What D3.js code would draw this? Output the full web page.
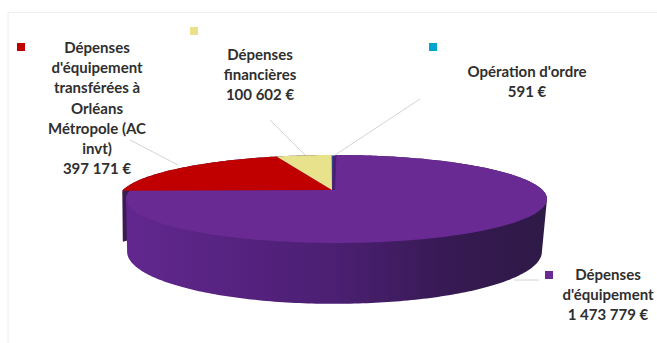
<!DOCTYPE html>
<html>
<head>
<meta charset="utf-8">
<script src="https://cdn.jsdelivr.net/npm/d3@7/dist/d3.min.js"></script>
<style>
  html, body { margin: 0; padding: 0; background: #fff; }
  svg { display: block; }
  text { font-family: Lato, "Open Sans", sans-serif; font-weight: 700; font-size: 15px; fill: #2f2f2f; text-anchor: middle; }
</style>
</head>
<body>
<svg id="chart" width="657" height="343"></svg>
<script>
// Budget split: investment spending by type, in euros
const categories = [
  "Dépenses d'équipement",
  "Dépenses d'équipement transférées à Orléans Métropole (AC invt)",
  "Dépenses financières",
  "Opération d'ordre"
];
const values = [1473779, 397171, 100602, 591];
const valueLabels = ["1 473 779 €", "397 171 €", "100 602 €", "591 €"];
const labelLines = [
  ["Dépenses", "d'équipement"],
  ["Dépenses", "d'équipement", "transférées à", "Orléans", "Métropole (AC", "invt)"],
  ["Dépenses", "financières"],
  ["Opération d'ordre"]
];
const colors = ["#6a2a94", "#c00000", "#e8e28c", "#00a5cf"];

const svg = d3.select("#chart");

// Faint frame of the chart area
svg.append("path").attr("d", "M8,343V12.5H657").attr("fill", "none").attr("stroke", "#eeeeee");

// Perspective model of the tilted disc
const persp = 0.2045;
const topFace = { y: 190, k: 42.16 };
const baseFace = { y: 241, k: 50 };

function rim(angle, cx, r, face) {
  const u = Math.sin(angle), v = -Math.cos(angle), w = 1 - persp * v;
  return [cx + r * u / w, face.y + face.k * v / w];
}
function arcPoints(a0, a1, cx, r, face) {
  const n = Math.max(2, Math.ceil(Math.abs(a1 - a0) * 60));
  return d3.range(n + 1).map(i => rim(a0 + (a1 - a0) * i / n, cx, r, face));
}
const outline = d3.line();

// The large slice is pulled slightly away from the others
const slices = d3.pie().sort(null).startAngle(0).endAngle(2 * Math.PI)(values);
const geom = [
  { cx: 336.5, r: 206, apex: 335, baseCx: 334.5, baseR: 203 },
  { cx: 332, r: 209, apex: 332, baseCx: 331.5, baseR: 208 },
  { cx: 332, r: 209, apex: 332, baseCx: 331.5, baseR: 208 },
  { cx: 332.5, r: 209, apex: 332.5, baseCx: 332, baseR: 208 }
];

const defs = svg.append("defs");
const wallFill = defs.append("linearGradient")
  .attr("id", "wallFill").attr("gradientUnits", "userSpaceOnUse")
  .attr("x1", 125).attr("x2", 545).attr("y1", 0).attr("y2", 0);
[[0, "#62278f"], [0.5, "#4b1f72"], [0.8, "#351950"], [1, "#2e1a47"]].forEach(([o, c]) =>
  wallFill.append("stop").attr("offset", o).attr("stop-color", c));

// Side wall of a slice: the hull of its upper and lower rims
function wallPath(s, g) {
  const pts = arcPoints(s.startAngle, s.endAngle, g.cx, g.r, topFace)
    .concat(arcPoints(s.startAngle, s.endAngle, g.baseCx, g.baseR, baseFace));
  return outline(d3.polygonHull(pts)) + "Z";
}

// Back slices first: only a thin strip of their walls shows on the left
slices.slice(1).forEach((s, i) => {
  svg.append("path").attr("d", wallPath(s, geom[i + 1])).attr("fill", "#3a1b52");
});
svg.append("path").attr("d", wallPath(slices[0], geom[0])).attr("fill", "url(#wallFill)");

// Top faces
slices.forEach((s, i) => {
  const g = geom[i];
  const face = [[g.apex, topFace.y]].concat(arcPoints(s.startAngle, s.endAngle, g.cx, g.r, topFace));
  svg.append("path").attr("d", outline(face) + "Z").attr("fill", colors[i]);
});

// Leader lines from each label to its slice
const leaders = [
  [[514, 280], [539, 280]],
  [[130, 140], [178, 165]],
  [[270, 120], [305, 155]],
  [[420, 99], [335, 155]]
];
leaders.forEach(l => svg.append("path").attr("d", outline(l))
  .attr("fill", "none").attr("stroke", "#d4d4d4").attr("stroke-width", 1));

// Legend keys
const keys = [[549, 275], [21, 47], [194, 31], [433, 47]];
svg.selectAll("rect.key").data(keys).join("rect").attr("class", "key")
  .attr("x", d => d[0] - 4).attr("y", d => d[1] - 4)
  .attr("width", 8).attr("height", 8)
  .attr("fill", (d, i) => colors[i]);

// Data labels
const anchors = [[608, 280], [97, 53], [260, 60], [527, 77]];
anchors.forEach((a, i) => {
  const t = svg.append("text");
  labelLines[i].concat([valueLabels[i]]).forEach((line, j) => {
    t.append("tspan").attr("x", a[0]).attr("y", a[1] + j * 20.2).text(line);
  });
});
</script>
</body>
</html>
